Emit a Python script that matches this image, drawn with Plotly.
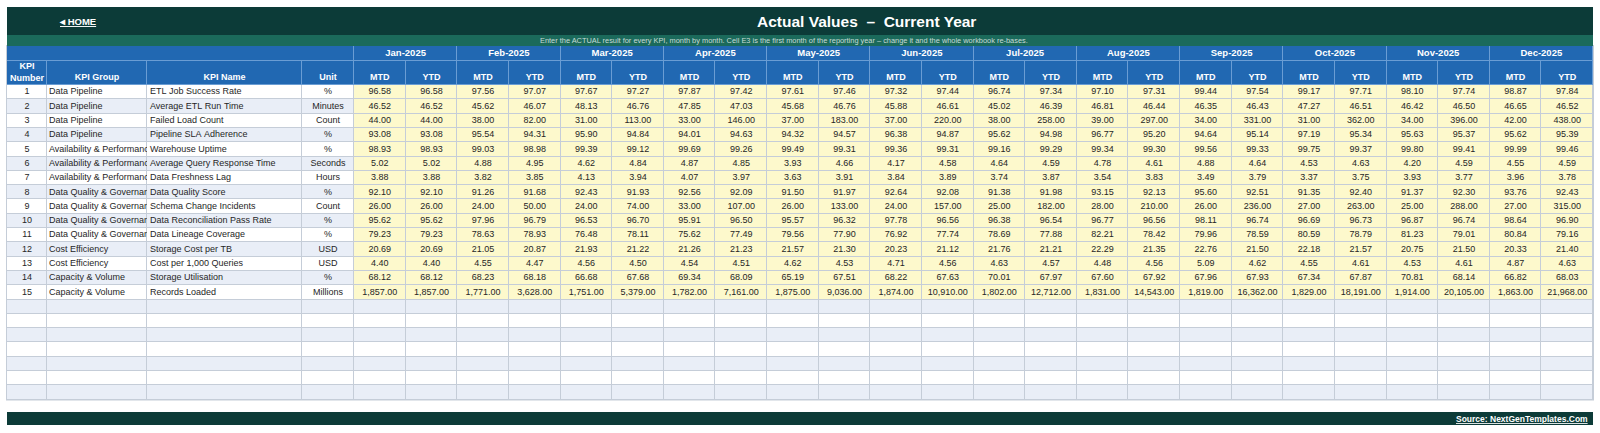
import plotly.graph_objects as go

# ---- data ----
months = ["Jan-2025", "Feb-2025", "Mar-2025", "Apr-2025", "May-2025", "Jun-2025",
          "Jul-2025", "Aug-2025", "Sep-2025", "Oct-2025", "Nov-2025", "Dec-2025"]
kpi_numbers = list(range(1, 16))
kpi_groups = ["Data Pipeline"] * 4 + ["Availability & Performance"] * 3 + \
             ["Data Quality & Governance"] * 4 + ["Cost Efficiency"] * 2 + ["Capacity & Volume"] * 2
kpi_names = ["ETL Job Success Rate", "Average ETL Run Time", "Failed Load Count",
             "Pipeline SLA Adherence", "Warehouse Uptime", "Average Query Response Time",
             "Data Freshness Lag", "Data Quality Score", "Schema Change Incidents",
             "Data Reconciliation Pass Rate", "Data Lineage Coverage", "Storage Cost per TB",
             "Cost per 1,000 Queries", "Storage Utilisation", "Records Loaded"]
units = ["%", "Minutes", "Count", "%", "%", "Seconds", "Hours", "%", "Count", "%", "%",
         "USD", "USD", "%", "Millions"]

mtd = [
    [96.58, 97.56, 97.67, 97.87, 97.61, 97.32, 96.74, 97.10, 99.44, 99.17, 98.10, 98.87],
    [46.52, 45.62, 48.13, 47.85, 45.68, 45.88, 45.02, 46.81, 46.35, 47.27, 46.42, 46.65],
    [44, 38, 31, 33, 37, 37, 38, 39, 34, 31, 34, 42],
    [93.08, 95.54, 95.90, 94.01, 94.32, 96.38, 95.62, 96.77, 94.64, 97.19, 95.63, 95.62],
    [98.93, 99.03, 99.39, 99.69, 99.49, 99.36, 99.16, 99.34, 99.56, 99.75, 99.80, 99.99],
    [5.02, 4.88, 4.62, 4.87, 3.93, 4.17, 4.64, 4.78, 4.88, 4.53, 4.20, 4.55],
    [3.88, 3.82, 4.13, 4.07, 3.63, 3.84, 3.74, 3.54, 3.49, 3.37, 3.93, 3.96],
    [92.10, 91.26, 92.43, 92.56, 91.50, 92.64, 91.38, 93.15, 95.60, 91.35, 91.37, 93.76],
    [26, 24, 24, 33, 26, 24, 25, 28, 26, 27, 25, 27],
    [95.62, 97.96, 96.53, 95.91, 95.57, 97.78, 96.38, 96.77, 98.11, 96.69, 96.87, 98.64],
    [79.23, 78.63, 76.48, 75.62, 79.56, 76.92, 78.69, 82.21, 79.96, 80.59, 81.23, 80.84],
    [20.69, 21.05, 21.93, 21.26, 21.57, 20.23, 21.76, 22.29, 22.76, 22.18, 20.75, 20.33],
    [4.40, 4.55, 4.56, 4.54, 4.62, 4.71, 4.63, 4.48, 5.09, 4.55, 4.53, 4.87],
    [68.12, 68.23, 66.68, 69.34, 65.19, 68.22, 70.01, 67.60, 67.96, 67.34, 70.81, 66.82],
    [1857, 1771, 1751, 1782, 1875, 1874, 1802, 1831, 1819, 1829, 1914, 1863],
]
ytd = [
    [96.58, 97.07, 97.27, 97.42, 97.46, 97.44, 97.34, 97.31, 97.54, 97.71, 97.74, 97.84],
    [46.52, 46.07, 46.76, 47.03, 46.76, 46.61, 46.39, 46.44, 46.43, 46.51, 46.50, 46.52],
    [44, 82, 113, 146, 183, 220, 258, 297, 331, 362, 396, 438],
    [93.08, 94.31, 94.84, 94.63, 94.57, 94.87, 94.98, 95.20, 95.14, 95.34, 95.37, 95.39],
    [98.93, 98.98, 99.12, 99.26, 99.31, 99.31, 99.29, 99.30, 99.33, 99.37, 99.41, 99.46],
    [5.02, 4.95, 4.84, 4.85, 4.66, 4.58, 4.59, 4.61, 4.64, 4.63, 4.59, 4.59],
    [3.88, 3.85, 3.94, 3.97, 3.91, 3.89, 3.87, 3.83, 3.79, 3.75, 3.77, 3.78],
    [92.10, 91.68, 91.93, 92.09, 91.97, 92.08, 91.98, 92.13, 92.51, 92.40, 92.30, 92.43],
    [26, 50, 74, 107, 133, 157, 182, 210, 236, 263, 288, 315],
    [95.62, 96.79, 96.70, 96.50, 96.32, 96.56, 96.54, 96.56, 96.74, 96.73, 96.74, 96.90],
    [79.23, 78.93, 78.11, 77.49, 77.90, 77.74, 77.88, 78.42, 78.59, 78.79, 79.01, 79.16],
    [20.69, 20.87, 21.22, 21.23, 21.30, 21.12, 21.21, 21.35, 21.50, 21.57, 21.50, 21.40],
    [4.40, 4.47, 4.50, 4.51, 4.53, 4.56, 4.57, 4.56, 4.62, 4.61, 4.61, 4.63],
    [68.12, 68.18, 67.68, 68.09, 67.51, 67.63, 67.97, 67.92, 67.93, 67.87, 68.14, 68.03],
    [1857, 3628, 5379, 7161, 9036, 10910, 12712, 14543, 16362, 18191, 20105, 21968],
]
blank_rows = 7

# ---- layout (pixel units, axes map 1:1 onto the page) ----
W, H = 1600, 433
FONT = "Liberation Sans, Arial, sans-serif"
DARK = "#0c3b38"
TEAL = "#1b6a5b"
BLUE = "#2168b2"
GRID = "#c5cdd8"
HGRID = "#6a9dd4"
TXT = "#262626"

left, right = 7, 1593
fixed_w = [40, 100, 155, 52]
x_edges = [left]
for w in fixed_w:
    x_edges.append(x_edges[-1] + w)
data_left = x_edges[-1]
col_w = (right - data_left) / 24
for k in range(1, 25):
    x_edges.append(data_left + col_w * k)
month_edges = [left] + [data_left + 2 * col_w * k for k in range(13)]

month_top, head_top, head_bot = 46, 61, 85
row_h = 14.3
n_rows = len(kpi_numbers) + blank_rows
y_edges = [head_top, head_bot] + [head_bot + row_h * (i + 1) for i in range(n_rows)]


def cx(c):
    return (x_edges[c] + x_edges[c + 1]) / 2


def cy(r):
    return (y_edges[r + 1] + y_edges[r + 2]) / 2


# cell fill codes: 0 white, 1 stripe, 2 input yellow, 3 header blue
z = [[3] * 28]
for r in range(n_rows):
    stripe = 0 if r % 2 == 0 else 1
    data_code = 2 if r < len(kpi_numbers) else stripe
    z.append([stripe] * 4 + [data_code] * 24)
cscale = [[0, "#ffffff"], [1 / 3, "#e9eef7"], [2 / 3, "#fdf9cc"], [1, BLUE]]

fig = go.Figure()
fig.add_trace(go.Heatmap(x=month_edges, y=[month_top, head_top], z=[[3] * 13], zmin=0, zmax=3,
                         colorscale=cscale, showscale=False, xgap=1, ygap=1, hoverinfo="skip"))
fig.add_trace(go.Heatmap(x=x_edges, y=y_edges, z=z, zmin=0, zmax=3, colorscale=cscale,
                         showscale=False, xgap=1, ygap=1, hoverinfo="skip"))

# KPI Group text sits on its own axes, sized to the column, so long labels get cut off
gx, gy, gt = [], [], []
for r, g in enumerate(kpi_groups):
    gx.append(x_edges[1] + 2)
    gy.append(cy(r))
    gt.append(g.replace(" ", "\u00a0"))
fig.add_trace(go.Scatter(x=gx, y=gy, text=gt, mode="text", textposition="middle right",
                         cliponaxis=True, xaxis="x2", yaxis="y2",
                         textfont=dict(family=FONT, size=9, color=TXT), hoverinfo="skip"))

# header texts
fig.add_trace(go.Scatter(
    x=[(month_edges[k + 1] + month_edges[k + 2]) / 2 for k in range(12)],
    y=[(month_top + head_top) / 2] * 12, text=months, mode="text",
    textfont=dict(family=FONT, size=9.5, color="white", weight="bold"), hoverinfo="skip"))
sub_labels = ["KPI<br>Number", "KPI Group", "KPI Name", "Unit"] + ["MTD", "YTD"] * 12
fig.add_trace(go.Scatter(
    x=[cx(c) for c in range(28)],
    y=[(head_top + head_bot) / 2] + [head_bot - 7] * 27, text=sub_labels, mode="text",
    textfont=dict(family=FONT, size=9, color="white", weight="bold"), hoverinfo="skip"))

# body texts
bx, by, bt = [], [], []
nx, ny, nt = [], [], []
for r in range(len(kpi_numbers)):
    bx += [cx(0), cx(3)]
    by += [cy(r), cy(r)]
    bt += [str(kpi_numbers[r]), units[r]]
    nx.append(x_edges[2] + 3)
    ny.append(cy(r))
    nt.append(kpi_names[r].replace(" ", "\u00a0"))
    for m in range(12):
        bx += [cx(4 + 2 * m), cx(5 + 2 * m)]
        by += [cy(r), cy(r)]
        bt += [f"{mtd[r][m]:,.2f}", f"{ytd[r][m]:,.2f}"]
fig.add_trace(go.Scatter(x=bx, y=by, text=bt, mode="text",
                         textfont=dict(family=FONT, size=9, color=TXT), hoverinfo="skip"))
fig.add_trace(go.Scatter(x=nx, y=ny, text=nt, mode="text", textposition="middle right",
                         textfont=dict(family=FONT, size=9, color=TXT), hoverinfo="skip"))

# backgrounds: grid line colour behind cells, banner bands
shapes = [
    dict(type="rect", x0=left - 1, x1=right + 1, y0=month_top - 1, y1=y_edges[-1] + 1,
         fillcolor=GRID, line_width=0, layer="below"),
    dict(type="rect", x0=left, x1=right, y0=month_top, y1=head_bot,
         fillcolor=HGRID, line_width=0, layer="below"),
    dict(type="rect", x0=left, x1=right, y0=7, y1=35, fillcolor=DARK, line_width=0, layer="below"),
    dict(type="rect", x0=left, x1=right, y0=35, y1=month_top, fillcolor=TEAL, line_width=0, layer="below"),
    dict(type="rect", x0=left, x1=right, y0=412, y1=425, fillcolor=DARK, line_width=0, layer="below"),
]

annotations = [
    dict(x=57, y=21, text="<u><b>\u25c2 HOME</b></u>", xanchor="left", showarrow=False,
         font=dict(family=FONT, size=9.5, color="white")),
    dict(x=866, y=21, text="<b>Actual Values\u00a0 \u2013\u00a0 Current Year</b>", showarrow=False,
         font=dict(family=FONT, size=15.5, color="white")),
    dict(x=784, y=40.5, showarrow=False,
         text="Enter the ACTUAL result for every KPI, month by month. Cell E3 is the first month of the "
              "reporting year \u2013 change it and the whole workbook re-bases.",
         font=dict(family=FONT, size=7.4, color="#c9dcd7")),
    dict(x=1590, y=418.5, text="<u><b>Source: NextGenTemplates.Com</b></u>", xanchor="right",
         showarrow=False, font=dict(family=FONT, size=8.5, color="white")),
]

fig.update_layout(
    width=W, height=H, margin=dict(l=0, r=0, t=0, b=0),
    paper_bgcolor="white", plot_bgcolor="rgba(0,0,0,0)", showlegend=False,
    xaxis=dict(range=[0, W], visible=False, fixedrange=True),
    yaxis=dict(range=[H, 0], visible=False, fixedrange=True),
    xaxis2=dict(domain=[x_edges[1] / W, x_edges[2] / W], range=[x_edges[1], x_edges[2]],
                anchor="y2", visible=False, fixedrange=True),
    yaxis2=dict(domain=[0, 1], range=[H, 0], anchor="x2", visible=False, fixedrange=True),
    shapes=shapes, annotations=annotations,
)

fig.write_html("out.html", config={"displayModeBar": False},
               post_script="document.body.style.margin='0';"
                           "document.body.style.overflow='hidden';")
